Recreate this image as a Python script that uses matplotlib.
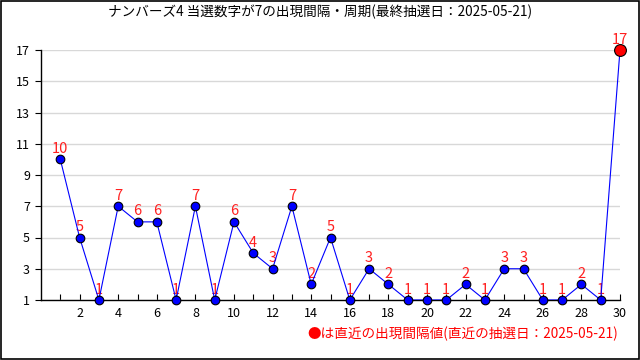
import matplotlib
matplotlib.use('Agg')
import matplotlib.pyplot as plt
from matplotlib.patches import Rectangle

plt.rcParams['font.family'] = ['Noto Sans CJK JP', 'DejaVu Sans']

# Data.
draw_index = list(range(1, 31))
intervals = [10, 5, 1, 7, 6, 6, 1, 7, 1, 6, 4, 3, 7, 2, 5,
             1, 3, 2, 1, 1, 1, 2, 1, 3, 3, 1, 1, 2, 1, 17]
y_ticks = [1, 3, 5, 7, 9, 11, 13, 15, 17]
x_labels = [2, 4, 6, 8, 10, 12, 14, 16, 18, 20, 22, 24, 26, 28, 30]

title = 'ナンバーズ4 当選数字が7の出現間隔・周期(最終抽選日：2025-05-21)'
note = '●は直近の出現間隔値(直近の抽選日：2025-05-21)'

fig = plt.figure(figsize=(6.4, 3.6), dpi=100)
ax = fig.add_axes([41 / 640, 60 / 360, 579 / 640, 250 / 360])

# Line and past points.
ax.plot(draw_index, intervals, color='#0000ff', linewidth=0.8, zorder=3)
ax.plot(draw_index[:-1], intervals[:-1], linestyle='none', marker='o',
        markersize=6.2, markerfacecolor='#0000ff', markeredgecolor='black',
        markeredgewidth=0.8, zorder=4, clip_on=False)
# Latest interval in red.
ax.plot(draw_index[-1:], intervals[-1:], linestyle='none', marker='o',
        markersize=8.5, markerfacecolor='#ff0000', markeredgecolor='black',
        markeredgewidth=0.8, zorder=4, clip_on=False)

# Value labels above each point.
for x, v in zip(draw_index, intervals):
    ax.annotate(str(v), (x, v), xytext=(0, 2.5), textcoords='offset points',
                ha='center', va='bottom', color='#ff2020', fontsize=10.5,
                zorder=2, annotation_clip=False)

ax.set_xlim(0, 30)
ax.set_ylim(1, 17)
ax.set_yticks(y_ticks)
ax.set_xticks(draw_index)
ax.set_xticklabels([str(x) if x in x_labels else '' for x in draw_index])
ax.tick_params(axis='x', direction='in', length=4, width=0.8, pad=5,
               labelsize=9, colors='black')
ax.tick_params(axis='y', direction='out', length=4, width=0.8, pad=4,
               labelsize=9)
ax.grid(axis='y', color='#d8d8d8', linewidth=1)
ax.set_axisbelow(True)
for side in ['top', 'right']:
    ax.spines[side].set_visible(False)
for side in ['left', 'bottom']:
    ax.spines[side].set_linewidth(1)

fig.text(0.5, 1 - 12 / 360, title, ha='center', va='center', fontsize=9.8)
fig.text(618 / 640, 1 - 334 / 360, note, ha='right', va='center',
         fontsize=9.8, color='#ff0000')

# Figure border.
fig.patches.append(Rectangle((0.001, 0.002), 0.997, 0.996, transform=fig.transFigure,
                             fill=False, edgecolor='black', linewidth=1.2))

fig.savefig('out.png', dpi=100, facecolor='white')
plt.close(fig)
